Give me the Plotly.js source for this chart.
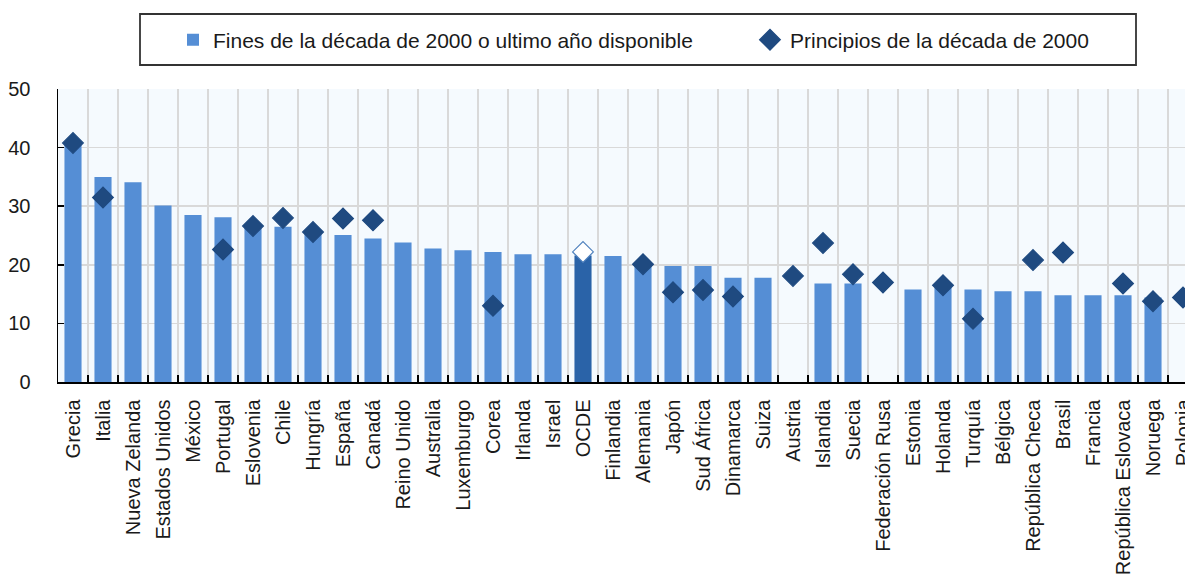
<!DOCTYPE html>
<html>
<head>
<meta charset="utf-8">
<script src="https://cdn.plot.ly/plotly-3.0.1.min.js"></script>
<style>html,body{margin:0;padding:0;background:#fff;}#chart{width:1185px;height:583px;}</style>
</head>
<body>
<div id="chart"></div>
<script>
var categories = ["Grecia","Italia","Nueva Zelanda","Estados Unidos","México","Portugal","Eslovenia","Chile","Hungría","España","Canadá","Reino Unido","Australia","Luxemburgo","Corea","Irlanda","Israel","OCDE","Finlandia","Alemania","Japón","Sud África","Dinamarca","Suiza","Austria","Islandia","Suecia","Federación Rusa","Estonia","Holanda","Turquía","Bélgica","República Checa","Brasil","Francia","República Eslovaca","Noruega","Polonia"];

var finesDecada = [40.5,35.0,34.1,30.1,28.5,28.1,26.9,26.5,25.7,25.1,24.5,23.8,22.8,22.5,22.2,21.8,21.8,21.6,21.5,20.0,19.8,19.8,17.8,17.8,null,16.8,16.8,null,15.8,16.1,15.8,15.5,15.5,14.8,14.8,14.8,14.4,null];

var principiosDecada = [40.8,31.5,null,null,null,22.6,26.6,28.0,25.6,27.9,27.6,null,null,null,13.0,null,null,22.2,null,20.1,15.3,15.7,14.6,null,18.1,23.7,18.4,17.0,null,16.5,10.8,null,20.8,22.1,null,16.8,13.8,14.4];

var seriesNames = ["Fines de la década de 2000 o ultimo año disponible","Principios de la década de 2000"];
var yTicks = [0,10,20,30,40,50];

var FONT = "Liberation Sans, Arial, sans-serif";
var barColors = categories.map(function(c){ return c === "OCDE" ? "#2a63a8" : "#558ed5"; });
var diaFill = categories.map(function(c){ return c === "OCDE" ? "#ffffff" : "#1f4a80"; });
var diaLine = categories.map(function(c){ return c === "OCDE" ? "#4f81bd" : "#1f4a80"; });

var traces = [
  {
    type: "bar", x: categories, y: finesDecada, name: seriesNames[0],
    marker: {color: barColors, line: {width: 0}}, width: 0.57,
    legend: "legend", hoverinfo: "x+y"
  },
  {
    type: "scatter", mode: "markers", x: categories, y: principiosDecada, name: seriesNames[1],
    marker: {symbol: "diamond", size: 16, color: diaFill, line: {color: diaLine, width: 1.2}},
    legend: "legend2", hoverinfo: "x+y"
  }
];

var PL = 58, PT = 89, PB = 382, PR = 1185;
function px2paperX(p){ return (p - PL) / (PR - PL); }
function px2paperY(p){ return (PB - p) / (PB - PT); }

var layout = {
  width: 1185, height: 583,
  margin: {l: PL, r: 1185 - PR, t: PT, b: 583 - PB, pad: 0},
  paper_bgcolor: "#ffffff",
  plot_bgcolor: "#f5fafe",
  font: {family: FONT, color: "#1a1a1a", size: 20},
  showlegend: true,
  bargap: 0.43,
  xaxis: {
    type: "category",
    range: [-0.5, -0.5 + (PR - PL) / 30],
    tickson: "boundaries",
    ticks: "inside", ticklen: 7, tickwidth: 1.5, tickcolor: "#000",
    showgrid: true, gridcolor: "#d9d9d9", gridwidth: 1.5,
    showline: true, linecolor: "#000", linewidth: 1.5,
    tickangle: -90,
    tickfont: {family: FONT, size: 20, color: "#1a1a1a"},
    ticklabelstandoff: 8,
    fixedrange: true
  },
  yaxis: {
    range: [0, 50],
    tickvals: yTicks,
    ticktext: yTicks.map(String),
    ticks: "inside", ticklen: 6, tickwidth: 1.5, tickcolor: "#000",
    showgrid: true, gridcolor: "#d9d9d9", gridwidth: 1.5,
    showline: true, linecolor: "#000", linewidth: 1.5,
    zeroline: false,
    tickfont: {family: FONT, size: 20, color: "#1a1a1a"},
    ticklabelstandoff: 22,
    fixedrange: true
  },
  legend: {
    xref: "container", yref: "container",
    x: 173 / 1185, y: 1 - 40 / 583, xanchor: "left", yanchor: "middle",
    orientation: "h", bgcolor: "rgba(0,0,0,0)", borderwidth: 0,
    font: {family: FONT, size: 21, color: "#1a1a1a"}
  },
  legend2: {
    xref: "container", yref: "container",
    x: 750 / 1185, y: 1 - 40 / 583, xanchor: "left", yanchor: "middle",
    orientation: "h", bgcolor: "rgba(0,0,0,0)", borderwidth: 0,
    font: {family: FONT, size: 21, color: "#1a1a1a"}
  },
  shapes: [
    {type: "rect", xref: "paper", yref: "paper",
     x0: px2paperX(140), x1: px2paperX(1136), y0: px2paperY(65), y1: px2paperY(14),
     line: {color: "#333333", width: 1.8}, fillcolor: "rgba(0,0,0,0)", layer: "above"}
  ]
};

Plotly.newPlot("chart", traces, layout, {displayModeBar: false, staticPlot: true});
</script>
</body>
</html>
